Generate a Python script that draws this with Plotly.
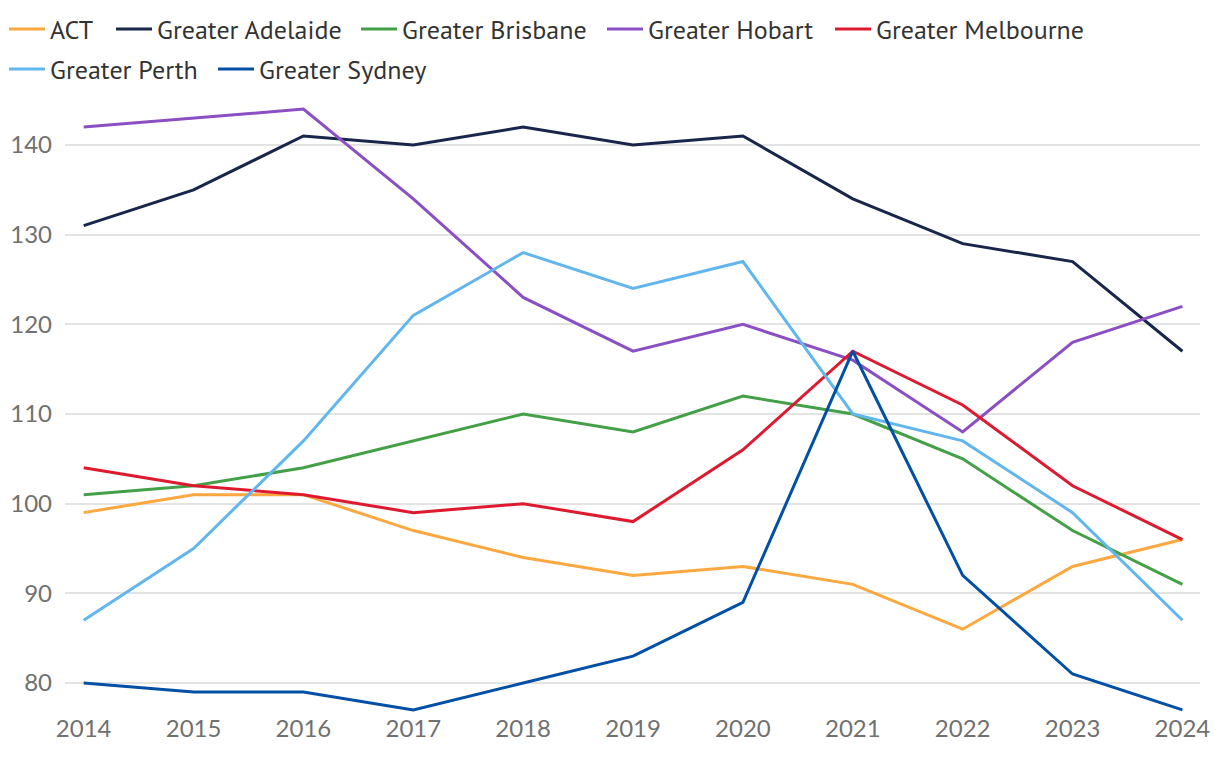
import plotly.graph_objects as go

years = [2014, 2015, 2016, 2017, 2018, 2019, 2020, 2021, 2022, 2023, 2024]
act = [99, 101, 101, 97, 94, 92, 93, 91, 86, 93, 96]
adelaide = [131, 135, 141, 140, 142, 140, 141, 134, 129, 127, 117]
brisbane = [101, 102, 104, 107, 110, 108, 112, 110, 105, 97, 91]
hobart = [142, 143, 144, 134, 123, 117, 120, 116, 108, 118, 122]
melbourne = [104, 102, 101, 99, 100, 98, 106, 117, 111, 102, 96]
perth = [87, 95, 107, 121, 128, 124, 127, 110, 107, 99, 87]
sydney = [80, 79, 79, 77, 80, 83, 89, 117, 92, 81, 77]

names = ["ACT", "Greater Adelaide", "Greater Brisbane", "Greater Hobart",
         "Greater Melbourne", "Greater Perth", "Greater Sydney"]
values = [act, adelaide, brisbane, hobart, melbourne, perth, sydney]
colors = ["#FAA83F", "#19264B", "#44A047", "#8B4FC4", "#DE1A30", "#62B6EE", "#0250A5"]

# legend entry placement (page px of symbol start, row centre)
leg_x = [10, 117, 362, 608, 836, 10, 219]
leg_y = [29, 29, 29, 29, 29, 69, 69]

T, B, L, R = 92, 60, 57, 28
ph = 764 - T - B
pw = 1220 - L - R
legfont = dict(family="PT Sans, Lato, sans-serif", size=26, color="#333333")

fig = go.Figure()
layout_legends = {}
for i, (name, vals, col) in enumerate(zip(names, values, colors)):
    lname = "legend" if i == 0 else f"legend{i + 1}"
    fig.add_trace(go.Scatter(x=years, y=vals, name=name, mode="lines",
                             line=dict(color=col, width=3), legend=lname))
    layout_legends[lname] = dict(
        orientation="h", x=(leg_x[i] - 8 - 6 - L) / pw, y=1 + (T - (leg_y[i] - 8)) / ph,
        xanchor="left", yanchor="middle", font=legfont, itemwidth=36)

fig.update_layout(
    width=1220, height=764,
    paper_bgcolor="white", plot_bgcolor="white",
    margin=dict(l=L, r=R, t=T, b=B, autoexpand=False),
    font=dict(family="Lato, sans-serif", color="#333333"),
    showlegend=True,
    **layout_legends,
)
fig.update_xaxes(range=[2013.83, 2024.16], tickvals=years, ticktext=[str(y) for y in years],
                 showgrid=False, zeroline=False, showline=False, ticks="",
                 tickfont=dict(family="Lato, sans-serif", size=24, color="#707070"))
y_top = 80 + (683 - 100) / 8.967
y_bot = 80 - (712 - 683) / 8.967
fig.update_yaxes(range=[y_bot, y_top], tickvals=[80, 90, 100, 110, 120, 130, 140],
                 showgrid=True, gridcolor="#E3E3E3", gridwidth=1.5, zeroline=False,
                 showline=False, ticks="", ticklabelstandoff=12,
                 tickfont=dict(family="Lato, sans-serif", size=24, color="#707070"))

fig.write_html("out.html")
